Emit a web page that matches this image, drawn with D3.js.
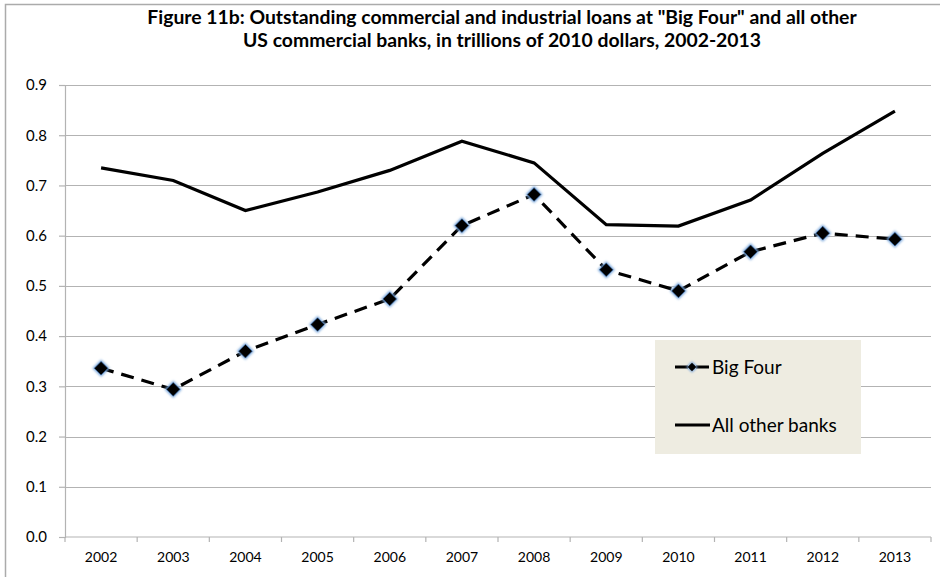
<!DOCTYPE html>
<html>
<head>
<meta charset="utf-8">
<script src="https://cdn.jsdelivr.net/npm/d3@7"></script>
<style>
  body { margin: 0; background: #fff; }
  svg text { font-family: Lato, "Open Sans", sans-serif; fill: #000; }
</style>
</head>
<body>
<svg id="chart" width="940" height="577"></svg>
<script>
// C&I loans, trillions of 2010 dollars
const years = ["2002", "2003", "2004", "2005", "2006", "2007", "2008", "2009", "2010", "2011", "2012", "2013"];
const bigFour = [0.336, 0.294, 0.370, 0.423, 0.474, 0.620, 0.682, 0.532, 0.490, 0.568, 0.605, 0.593];
const allOther = [0.735, 0.710, 0.650, 0.687, 0.730, 0.788, 0.745, 0.622, 0.619, 0.671, 0.764, 0.848];
const yTicks = [0, 0.1, 0.2, 0.3, 0.4, 0.5, 0.6, 0.7, 0.8, 0.9];
const seriesNames = ["Big Four", "All other banks"];
const titleLines = [
  "Figure 11b: Outstanding commercial and industrial loans at \"Big Four\" and all other",
  "US commercial banks, in trillions of 2010 dollars, 2002-2013"
];

const svg = d3.select("#chart");
const W = 940, H = 577;
const plot = { left: 65, right: 931, top: 85, bottom: 537 };
const gridColor = "#b3b3b3";

// chart frame
svg.append("rect")
  .attr("x", 5.5).attr("y", 4.5)
  .attr("width", W + 20).attr("height", H + 20)
  .attr("fill", "#fff").attr("stroke", "#ababab").attr("stroke-width", 1.5);

const defs = svg.append("defs");
defs.append("filter").attr("id", "glow")
  .attr("x", "-50%").attr("y", "-50%").attr("width", "200%").attr("height", "200%")
  .append("feGaussianBlur").attr("stdDeviation", 0.9);

const x = d3.scaleBand().domain(years).range([plot.left, plot.right]).padding(0);
const y = d3.scaleLinear().domain([0, 0.9]).range([plot.bottom, plot.top]);
const cx = d => x(d) + x.bandwidth() / 2;

// horizontal gridlines
svg.append("g")
  .selectAll("line").data(yTicks.filter(t => t > 0)).join("line")
  .attr("x1", plot.left).attr("x2", plot.right)
  .attr("y1", d => Math.round(y(d)) + 0.5).attr("y2", d => Math.round(y(d)) + 0.5)
  .attr("stroke", gridColor).attr("stroke-width", 1.2);

// y axis
const yAxis = svg.append("g")
  .attr("transform", `translate(${plot.left},0)`)
  .call(d3.axisLeft(y).tickValues(yTicks).tickFormat(d3.format(".1f")).tickSize(6).tickPadding(12));
yAxis.select(".domain").attr("stroke", gridColor).attr("stroke-width", 1.2);
yAxis.selectAll(".tick line").attr("stroke", gridColor).attr("stroke-width", 1.2);
yAxis.selectAll(".tick text").attr("font-size", 15).attr("font-family", "Lato, sans-serif").attr("fill", "#000");

// x axis: ticks between categories
const xAxis = svg.append("g")
  .attr("transform", `translate(0,${plot.bottom})`)
  .call(d3.axisBottom(x).tickSize(0).tickPadding(15));
xAxis.select(".domain").attr("stroke", gridColor).attr("stroke-width", 1.2)
  .attr("d", `M${plot.left},0H${plot.right}`);
xAxis.selectAll(".tick text").attr("font-size", 14).attr("font-family", "Lato, sans-serif").attr("fill", "#000");
svg.append("g")
  .selectAll("line").data(d3.range(years.length + 1)).join("line")
  .attr("x1", i => plot.left + i * x.bandwidth()).attr("x2", i => plot.left + i * x.bandwidth())
  .attr("y1", plot.bottom).attr("y2", plot.bottom + 5)
  .attr("stroke", gridColor).attr("stroke-width", 1.2);

// series lines
const line = d3.line().x((d, i) => cx(years[i])).y(d => y(d));
svg.append("path").datum(allOther)
  .attr("d", line).attr("fill", "none")
  .attr("stroke", "#000").attr("stroke-width", 3.2);
svg.append("path").datum(bigFour)
  .attr("d", line).attr("fill", "none")
  .attr("stroke", "#000").attr("stroke-width", 3.2)
  .attr("stroke-dasharray", "13,8");

// diamond markers with a soft blue rim
const diamond = (size) => d3.symbol(d3.symbolSquare, size)();
const markers = svg.append("g").selectAll("g").data(bigFour).join("g")
  .attr("transform", (d, i) => `translate(${cx(years[i])},${y(d)}) rotate(45)`);
markers.append("path").attr("d", diamond(150))
  .attr("fill", "#7fa9dc").attr("filter", "url(#glow)");
markers.append("path").attr("d", diamond(92))
  .attr("fill", "#000").attr("stroke", "#2f5f99").attr("stroke-width", 0.6);

// legend
const lg = svg.append("g");
lg.append("rect").attr("x", 655).attr("y", 340).attr("width", 206).attr("height", 114)
  .attr("fill", "#eeece1");
const legendRows = [367, 425];
lg.append("line")
  .attr("x1", 675).attr("x2", 710).attr("y1", legendRows[0]).attr("y2", legendRows[0])
  .attr("stroke", "#000").attr("stroke-width", 3.2).attr("stroke-dasharray", "13,8");
const lm = lg.append("g").attr("transform", `translate(692,${legendRows[0]}) rotate(45)`);
lm.append("path").attr("d", diamond(64)).attr("fill", "#7fa9dc").attr("filter", "url(#glow)");
lm.append("path").attr("d", diamond(38)).attr("fill", "#000");
lg.append("line")
  .attr("x1", 675).attr("x2", 710).attr("y1", legendRows[1]).attr("y2", legendRows[1])
  .attr("stroke", "#000").attr("stroke-width", 3.2);
lg.selectAll("text.lab").data(seriesNames).join("text").attr("class", "lab")
  .attr("x", 712).attr("y", (d, i) => legendRows[i])
  .attr("dy", "0.36em").attr("font-size", 19).text(d => d);

// title, sized so the first line spans about 710px
const title = svg.append("g").selectAll("text").data(titleLines).join("text")
  .attr("x", 502).attr("y", (d, i) => 24 + i * 23)
  .attr("text-anchor", "middle").attr("font-weight", "bold").attr("font-size", 18)
  .text(d => d);
const w0 = title.node().getComputedTextLength();
if (w0 > 0) title.attr("font-size", 18 * 710 / w0);
</script>
</body>
</html>
